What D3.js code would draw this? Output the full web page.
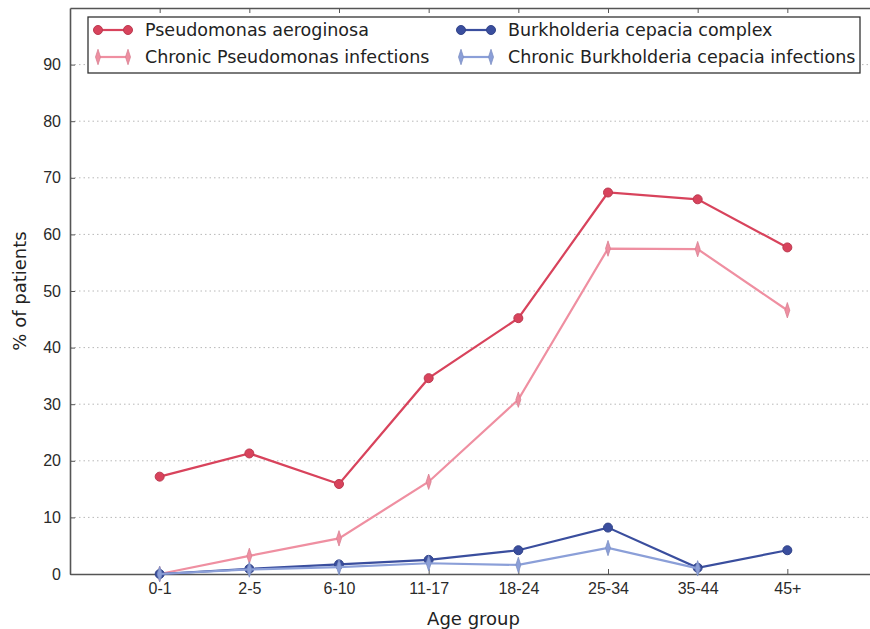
<!DOCTYPE html>
<html>
<head>
<meta charset="utf-8">
<script src="https://cdn.jsdelivr.net/npm/d3@7"></script>
<style>
  body { margin: 0; background: #fff; }
  svg { font-family: "DejaVu Sans", sans-serif; }
  .axis text { fill: #2a2a2a; font-size: 16px; }
  .axis path, .axis line { stroke: #555; }
</style>
</head>
<body>
<svg width="870" height="629"></svg>
<script>
// age groups along the x axis
let ageGroups = ["0-1", "2-5", "6-10", "11-17", "18-24", "25-34", "35-44", "45+"];

// % of patients
let pseudomonas = [17.2, 21.3, 15.9, 34.6, 45.2, 67.4, 66.2, 57.7];
let chronicPseudomonas = [0, 3.2, 6.3, 16.3, 30.8, 57.5, 57.4, 46.6];
let burkholderia = [0, 0.9, 1.7, 2.5, 4.2, 8.2, 1.1, 4.2];
let chronicBurkholderia = [0, 0.8, 1.2, 1.9, 1.6, 4.6, 1.0, null];

let yTicks = [0, 10, 20, 30, 40, 50, 60, 70, 80, 90];

let series = [
    { name: "Pseudomonas aeroginosa", values: pseudomonas, color: "#d8435c", marker: "circle" },
    { name: "Chronic Pseudomonas infections", values: chronicPseudomonas, color: "#ef8fa1", marker: "diamond" },
    { name: "Burkholderia cepacia complex", values: burkholderia, color: "#3a4e9e", marker: "circle" },
    { name: "Chronic Burkholderia cepacia infections", values: chronicBurkholderia, color: "#8b9fd8", marker: "diamond" }
];

let svg = d3.select("svg");
let margin = { top: 8, left: 70, bottom: 55 };
let plotRight = 877;
let height = 629 - margin.top - margin.bottom;

let x = d3.scaleLinear().domain([-1, 8]).range([margin.left, plotRight]);
let y = d3.scaleLinear().domain([0, 100]).range([margin.top + height, margin.top]);

// dotted grid
svg.append("g")
    .selectAll("line")
    .data(yTicks.filter(d => d > 0))
    .enter().append("line")
    .attr("x1", margin.left)
    .attr("x2", plotRight)
    .attr("y1", d => y(d))
    .attr("y2", d => y(d))
    .attr("stroke", "#b8b8b8")
    .attr("stroke-width", 1)
    .attr("stroke-dasharray", "1.5,3");

// axes (ticks pointing inward)
let xAxis = d3.axisBottom(x)
    .tickValues(d3.range(ageGroups.length))
    .tickFormat(i => ageGroups[i])
    .tickSizeInner(-5).tickSizeOuter(0).tickPadding(9);

svg.append("g")
    .classed("axis axis--x", true)
    .attr("transform", "translate(0," + y(0) + ")")
    .call(xAxis);

svg.append("g")
    .classed("axis axis--top", true)
    .attr("transform", "translate(0," + y(100) + ")")
    .call(d3.axisTop(x).tickValues(d3.range(ageGroups.length)).tickFormat("").tickSizeInner(-5).tickSizeOuter(0));

svg.append("g")
    .classed("axis axis--y", true)
    .attr("transform", "translate(" + margin.left + ",0)")
    .call(d3.axisLeft(y).tickValues(yTicks).tickSizeInner(-5).tickSizeOuter(0).tickPadding(9));

svg.selectAll(".axis path").attr("stroke-width", 1.6);

// lines and markers
let line = d3.line()
    .defined(d => d.v !== null)
    .x(d => x(d.i))
    .y(d => y(d.v));

let diamond = d3.symbol().type(d3.symbolDiamond).size(44);

function drawMarker(g, s, cx, cy) {
    if (s.marker === "circle") {
        g.append("circle").attr("cx", cx).attr("cy", cy).attr("r", 4.5)
            .attr("fill", s.color).attr("stroke", d3.color(s.color).darker(0.4));
    } else {
        g.append("path").attr("d", diamond)
            .attr("transform", "translate(" + cx + "," + cy + ") scale(0.7,1.25)")
            .attr("fill", s.color).attr("stroke", d3.color(s.color).darker(0.3)).attr("stroke-width", 0.8);
    }
}

series.forEach(s => {
    let pts = s.values.map((v, i) => ({ i: i, v: v }));
    let g = svg.append("g");
    g.append("path")
        .datum(pts)
        .attr("d", line)
        .attr("fill", "none")
        .attr("stroke", s.color)
        .attr("stroke-width", 2.2);
    pts.filter(d => d.v !== null).forEach(d => drawMarker(g, s, x(d.i), y(d.v)));
});

// legend
let legend = svg.append("g");
legend.append("rect")
    .attr("x", 88).attr("y", 17).attr("width", 772).attr("height", 56)
    .attr("fill", "#fff").attr("stroke", "#333").attr("stroke-width", 1.3);

let legendPos = [[98, 30], [98, 57], [461, 30], [461, 57]];
series.forEach((s, k) => {
    let [lx, ly] = legendPos[k];
    legend.append("line")
        .attr("x1", lx).attr("x2", lx + 30).attr("y1", ly).attr("y2", ly)
        .attr("stroke", s.color).attr("stroke-width", 2.2);
    drawMarker(legend, s, lx, ly);
    drawMarker(legend, s, lx + 30, ly);
    legend.append("text")
        .attr("x", lx + 47).attr("y", ly)
        .attr("dy", "0.35em")
        .style("font-size", "17.5px")
        .attr("fill", "#222")
        .text(s.name);
});

// axis titles
svg.append("text")
    .attr("x", (margin.left + plotRight) / 2)
    .attr("y", 625)
    .attr("text-anchor", "middle")
    .style("font-size", "18px")
    .attr("fill", "#222")
    .text("Age group");

svg.append("text")
    .attr("transform", "translate(26," + y(50) + ") rotate(-90)")
    .attr("text-anchor", "middle")
    .style("font-size", "18px")
    .attr("fill", "#222")
    .text("% of patients");
</script>
</body>
</html>
